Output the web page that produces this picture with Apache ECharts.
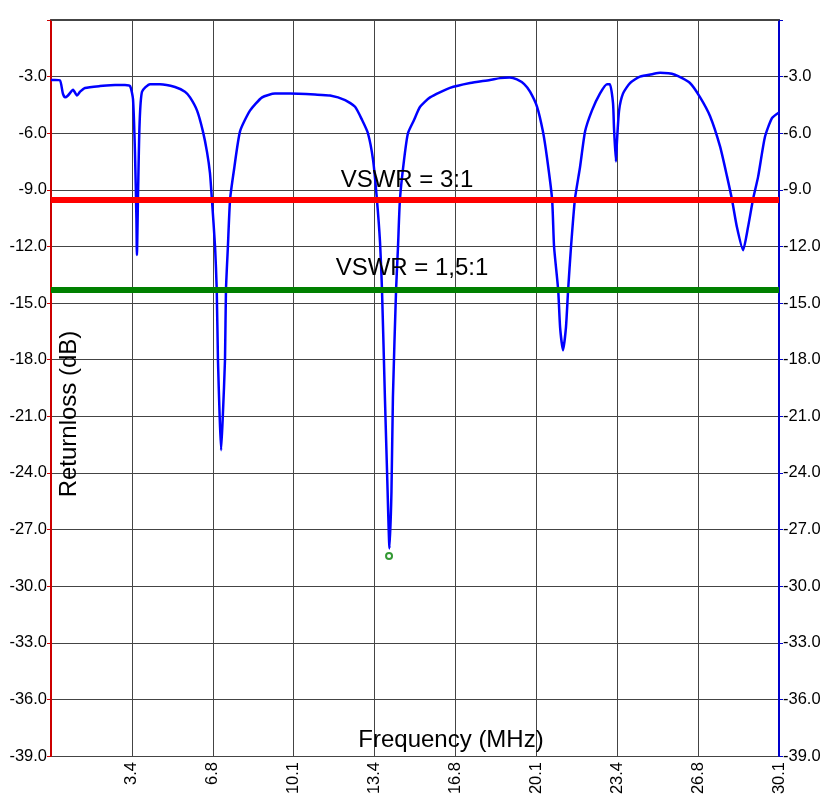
<!DOCTYPE html>
<html>
<head>
<meta charset="utf-8">
<script src="https://cdn.jsdelivr.net/npm/echarts@6/dist/echarts.min.js"></script>
<style>
  html, body { margin: 0; padding: 0; background: #fff; }
  #chart { width: 832px; height: 800px; }
</style>
</head>
<body>
<div id="chart"></div>
<script>
// frequency (MHz) and return loss (dB)
const freq = [
  0.10, 0.26, 0.47, 0.59, 0.68, 0.80, 1.01, 1.17, 1.30, 1.50, 2.12, 2.74, 3.15, 3.36,
  3.48, 3.56, 3.62, 3.64, 3.69, 3.75, 3.85, 4.18, 4.59, 5.21, 5.62, 5.83, 6.12, 6.36,
  6.53, 6.65, 6.73, 6.86, 6.93, 6.98, 7.05, 7.11, 7.18, 7.27, 7.31, 7.39, 7.48, 7.64,
  7.89, 8.30, 8.80, 9.33, 9.95, 10.98, 11.60, 12.22, 12.63, 12.92, 13.16, 13.37, 13.53,
  13.66, 13.74, 13.86, 13.95, 14.05, 14.13, 14.19, 14.32, 14.40, 14.48, 14.65, 14.81,
  15.06, 15.31, 15.72, 16.54, 17.37, 18.19, 18.60, 19.00, 19.30, 19.60, 19.84, 20.13, 20.37,
  20.54, 20.75, 20.83, 21.00, 21.08, 21.20, 21.32, 21.41, 21.53, 21.69, 21.90, 22.11,
  22.39, 22.72, 23.01, 23.13, 23.26, 23.30, 23.38, 23.42, 23.51, 23.67, 23.96, 24.37,
  24.91, 25.20, 25.81, 26.43, 26.85, 27.26, 27.67, 27.96, 28.16, 28.37, 28.62, 28.82,
  29.03, 29.24, 29.52, 29.81, 30.10
];
const returnLoss = [
  -3.18, -3.18, -3.20, -3.9, -4.1, -4.0, -3.7, -4.0, -3.8, -3.6, -3.5, -3.45, -3.44, -3.5,
  -4.2, -7.0, -10.5, -12.45, -9.0, -5.5, -3.8, -3.4, -3.4, -3.55, -3.8, -4.1, -4.8, -5.9,
  -7.0, -8.1, -9.5, -12.0, -14.3, -18.0, -21.0, -22.8, -21.0, -18.0, -14.3, -12.0, -9.5, -7.95,
  -5.9, -4.8, -4.1, -3.9, -3.9, -3.95, -4.0, -4.24, -4.6, -5.3, -6.0, -7.4, -9.5,
  -11.8, -14.3, -20.0, -24.0, -28.0, -25.0, -20.0, -14.3, -12.0, -9.5, -7.4, -6.0,
  -5.3, -4.6, -4.1, -3.6, -3.34, -3.18, -3.08, -3.05, -3.15, -3.4, -3.8, -4.6, -5.9,
  -7.3, -9.5, -12.0, -14.3, -16.3, -17.5, -16.3, -14.3, -12.0, -9.5, -7.8, -5.9,
  -4.8, -3.9, -3.4, -3.4, -4.4, -5.7, -7.5, -6.5, -4.8, -3.9, -3.34, -3.0,
  -2.86, -2.8, -2.9, -3.34, -4.1, -5.1, -6.7, -8.3, -9.5, -11.0, -12.2, -11.0,
  -9.5, -8.3, -6.2, -5.2, -4.9
];
// minimum marker
const markerPoint = [14.03, -28.4];
// reference levels
const vswrNames = ['VSWR = 3:1', 'VSWR = 1,5:1'];
const vswrLevels = [-9.5, -14.3];
const vswrColors = ['#ff0000', '#008000'];

const FONT = '"Liberation Sans", Arial, sans-serif';

const chart = echarts.init(document.getElementById('chart'));

const yAxisBase = {
  type: 'value',
  min: -39,
  max: 0,
  interval: 3,
  axisLabel: {
    color: '#000',
    fontFamily: FONT,
    fontSize: 16.5,
    margin: 4,
    formatter: v => (v === 0 ? '' : v.toFixed(1))
  }
};

const option = {
  animation: false,
  backgroundColor: '#fff',
  grid: { left: 51, right: 53, top: 20, bottom: 44, outerBoundsMode: 'none', containLabel: false },
  xAxis: {
    type: 'value',
    min: 0.1,
    max: 30.1,
    interval: 10 / 3,
    name: 'Frequency (MHz)',
    nameLocation: 'middle',
    nameGap: -28,
    nameMoveOverlap: false,
    nameTextStyle: { color: '#000', fontFamily: FONT, fontSize: 24, padding: [0, 0, 0, 72] },
    axisLine: { lineStyle: { color: '#444', width: 2 } },
    axisTick: { show: false },
    axisLabel: {
      rotate: 90,
      color: '#000',
      fontFamily: FONT,
      fontSize: 16.5,
      margin: 6,
      formatter: v => (Math.abs(v - 0.1) < 1e-6 ? '' : v.toFixed(1))
    },
    splitLine: { show: true, lineStyle: { color: '#444', width: 1 } }
  },
  yAxis: [
    Object.assign({}, yAxisBase, {
      position: 'left',
      name: 'Returnloss (dB)',
      nameLocation: 'middle',
      nameGap: -30,
      nameMoveOverlap: false,
      nameTextStyle: { color: '#000', fontFamily: FONT, fontSize: 24, padding: [0, 52, 0, 0] },
      axisLine: { show: true, lineStyle: { color: '#cc0000', width: 2 } },
      axisTick: { show: true, length: 4, lineStyle: { color: '#cc0000' } },
      splitLine: { show: true, lineStyle: { color: '#444', width: 1 } }
    }),
    Object.assign({}, yAxisBase, {
      position: 'right',
      axisLine: { show: true, lineStyle: { color: '#0000cc', width: 2 } },
      axisTick: { show: true, length: 4, lineStyle: { color: '#0000cc' } },
      splitLine: { show: false }
    })
  ],
  series: [
    {
      name: 'Returnloss',
      type: 'line',
      data: freq.map((f, i) => [f, returnLoss[i]]),
      showSymbol: false,
      smooth: 0.2,
      lineStyle: { color: '#0000ff', width: 2.5 },
      z: 2
    },
    {
      name: 'marker',
      type: 'scatter',
      data: [markerPoint],
      symbol: 'emptyCircle',
      symbolSize: 6,
      itemStyle: { color: '#008000', borderColor: '#008000', borderWidth: 1.5 },
      z: 3
    },
    {
      name: 'VSWR',
      type: 'line',
      data: [],
      z: 4,
      markLine: {
        silent: true,
        symbol: 'none',
        data: vswrLevels.map((lvl, i) => ({
          yAxis: lvl,
          lineStyle: { color: vswrColors[i], width: 6, type: 'solid' },
          label: {
            show: true,
            position: 'middle',
            formatter: vswrNames[i],
            color: '#000',
            fontFamily: FONT,
            fontSize: 24,
            padding: i === 0 ? [0, 16, 0, 0] : [0, 6, 0, 0],
            distance: i === 0 ? 7 : 9
          }
        }))
      }
    }
  ]
};

chart.setOption(option);
</script>
</body>
</html>
